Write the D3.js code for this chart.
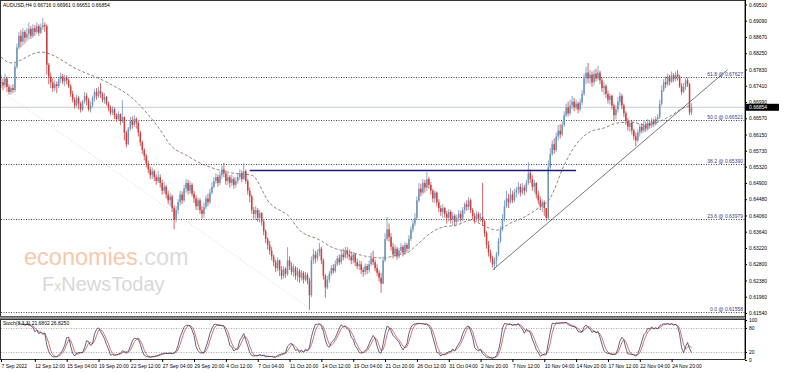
<!DOCTYPE html>
<html>
<head>
<meta charset="utf-8">
<script src="https://cdn.jsdelivr.net/npm/d3@7"></script>
<style>
    body { margin: 0; background: #fff; }
    svg { display: block; font-family: "Liberation Sans", Arial, sans-serif; }
</style>
</head>
<body>
<svg id="chart"></svg>
<script>
// AUDUSD H4, prices in 1/10000 (6685 = 0.6685), open = previous close
var closes = [
    6750,6742,6760,6738,6725,6735,6730,6790,6840,6870,
    6855,6880,6865,6875,6888,6870,6890,6880,6895,6878,
    6892,6898,6895,6795,6765,6750,6735,6745,6740,6758,
    6765,6752,6762,6755,6740,6720,6705,6690,6710,6695,
    6680,6700,6715,6705,6680,6690,6710,6725,6715,6728,
    6720,6705,6712,6695,6685,6672,6680,6665,6655,6668,
    6650,6660,6620,6590,6630,6650,6640,6655,6645,6620,
    6595,6575,6560,6540,6525,6510,6520,6505,6495,6505,
    6490,6470,6480,6460,6445,6455,6425,6395,6420,6440,
    6460,6445,6475,6490,6470,6485,6462,6450,6430,6445,
    6420,6410,6428,6450,6440,6465,6480,6495,6505,6490,
    6510,6525,6515,6495,6505,6490,6500,6485,6495,6505,
    6515,6500,6520,6495,6470,6455,6420,6410,6420,6400,
    6412,6390,6365,6345,6330,6315,6300,6285,6270,6290,
    6265,6250,6268,6255,6290,6275,6260,6270,6250,6262,
    6245,6258,6240,6252,6238,6200,6290,6305,6295,6310,
    6320,6290,6250,6220,6240,6255,6270,6262,6280,6295,
    6285,6305,6298,6315,6305,6300,6290,6305,6285,6275,
    6280,6265,6260,6275,6265,6280,6295,6285,6270,6258,
    6245,6230,6290,6345,6370,6350,6325,6305,6320,6300,
    6315,6325,6310,6330,6320,6345,6370,6385,6400,6445,
    6475,6465,6490,6478,6500,6485,6470,6450,6465,6440,
    6425,6415,6425,6410,6400,6415,6395,6405,6390,6400,
    6410,6398,6420,6435,6428,6445,6420,6405,6395,6410,
    6398,6402,6390,6360,6330,6310,6295,6280,6290,6305,
    6340,6370,6395,6430,6450,6440,6460,6445,6465,6472,
    6480,6465,6478,6470,6490,6515,6500,6480,6490,6460,
    6445,6430,6440,6425,6400,6530,6565,6590,6575,6610,
    6625,6615,6640,6665,6685,6670,6690,6700,6685,6695,
    6680,6698,6720,6760,6775,6760,6770,6750,6772,6760,
    6775,6755,6735,6740,6720,6705,6715,6690,6665,6680,
    6700,6715,6690,6670,6650,6635,6645,6625,6610,6600,
    6620,6635,6625,6640,6630,6645,6638,6650,6642,6655,
    6660,6695,6730,6750,6745,6765,6752,6768,6758,6770,
    6765,6740,6725,6738,6755,6745,6672,6685
];
var highs = [
    6770,6760,6772,6765,6745,6742,6745,6800,6850,6880,
    6885,6890,6885,6890,6905,6895,6900,6898,6905,6900,
    6902,6916,6905,6900,6800,6775,6760,6755,6752,6765,
    6775,6772,6770,6768,6760,6745,6728,6712,6718,6715,
    6700,6705,6725,6722,6710,6700,6715,6732,6735,6738,
    6748,6725,6722,6715,6700,6690,6688,6685,6670,6675,
    6670,6704,6662,6625,6635,6660,6662,6665,6660,6650,
    6625,6600,6580,6565,6548,6532,6530,6525,6512,6520,
    6512,6498,6492,6485,6470,6465,6460,6432,6430,6448,
    6470,6468,6485,6500,6498,6495,6490,6470,6458,6452,
    6450,6430,6440,6458,6462,6475,6492,6505,6515,6512,
    6520,6535,6542,6522,6515,6510,6512,6505,6505,6515,
    6525,6522,6541,6525,6500,6478,6460,6428,6430,6425,
    6420,6415,6395,6370,6350,6340,6325,6305,6292,6298,
    6292,6275,6275,6272,6324,6300,6285,6280,6275,6272,
    6268,6265,6262,6260,6258,6245,6300,6320,6315,6318,
    6335,6325,6295,6255,6250,6262,6278,6280,6290,6302,
    6305,6315,6320,6325,6324,6318,6312,6312,6308,6295,
    6290,6288,6272,6282,6280,6290,6310,6315,6292,6280,
    6265,6258,6300,6360,6402,6385,6360,6335,6330,6325,
    6322,6335,6330,6338,6335,6355,6378,6395,6412,6455,
    6490,6488,6500,6498,6518,6505,6492,6475,6470,6468,
    6448,6432,6435,6428,6418,6422,6420,6415,6410,6408,
    6420,6418,6428,6440,6445,6454,6450,6425,6412,6418,
    6415,6412,6490,6395,6365,6340,6318,6302,6298,6312,
    6348,6378,6410,6445,6470,6462,6477,6470,6475,6480,
    6492,6488,6490,6485,6498,6544,6525,6510,6498,6492,
    6470,6455,6448,6445,6425,6548,6580,6600,6605,6620,
    6640,6642,6650,6675,6695,6700,6705,6715,6710,6705,
    6700,6708,6730,6772,6790,6800,6782,6778,6782,6785,
    6792,6780,6762,6750,6745,6728,6722,6718,6695,6690,
    6712,6725,6720,6695,6675,6658,6652,6650,6630,6620,
    6628,6642,6645,6650,6648,6655,6652,6658,6656,6662,
    6668,6705,6742,6758,6765,6772,6770,6778,6774,6778,
    6782,6770,6748,6748,6760,6762,6748,6696
];
var lows = [
    6735,6730,6735,6725,6718,6718,6722,6725,6785,6835,
    6840,6845,6850,6855,6860,6862,6865,6870,6875,6870,
    6875,6885,6880,6770,6745,6735,6725,6728,6722,6735,
    6748,6745,6740,6745,6735,6712,6698,6682,6685,6680,
    6672,6675,6695,6690,6675,6672,6685,6700,6705,6710,
    6710,6698,6695,6690,6675,6665,6665,6655,6648,6650,
    6640,6645,6600,6582,6588,6625,6630,6635,6630,6610,
    6585,6565,6548,6530,6515,6500,6500,6495,6485,6490,
    6478,6460,6462,6450,6435,6430,6415,6370,6388,6410,
    6432,6435,6440,6465,6460,6462,6455,6438,6420,6420,
    6410,6398,6400,6422,6430,6435,6460,6475,6488,6480,
    6485,6500,6505,6485,6485,6478,6482,6475,6478,6488,
    6498,6492,6498,6488,6460,6440,6410,6398,6395,6390,
    6388,6380,6355,6335,6318,6305,6290,6275,6260,6262,
    6250,6240,6242,6245,6250,6265,6252,6248,6240,6235,
    6232,6238,6230,6235,6228,6162,6195,6280,6282,6288,
    6300,6280,6240,6193,6215,6232,6250,6255,6258,6275,
    6278,6280,6290,6295,6295,6290,6280,6282,6275,6268,
    6265,6255,6248,6252,6255,6258,6275,6278,6262,6250,
    6235,6206,6228,6285,6340,6338,6315,6295,6298,6292,
    6295,6305,6300,6305,6310,6315,6340,6362,6378,6395,
    6440,6455,6460,6465,6470,6475,6460,6440,6438,6430,
    6415,6405,6400,6400,6385,6390,6385,6380,6378,6382,
    6390,6388,6392,6410,6418,6420,6412,6395,6385,6390,
    6388,6390,6380,6350,6320,6300,6285,6272,6265,6275,
    6300,6335,6365,6390,6425,6425,6435,6438,6440,6452,
    6460,6455,6460,6458,6465,6485,6490,6470,6465,6450,
    6435,6420,6415,6405,6392,6395,6525,6560,6565,6570,
    6600,6605,6610,6635,6660,6662,6665,6680,6675,6678,
    6670,6675,6690,6715,6745,6748,6745,6738,6742,6752,
    6755,6745,6725,6718,6710,6695,6692,6680,6650,6655,
    6672,6690,6680,6660,6640,6625,6622,6615,6600,6585,
    6595,6610,6618,6620,6622,6625,6630,6632,6635,6638,
    6645,6655,6690,6725,6735,6740,6742,6748,6750,6752,
    6755,6735,6718,6722,6730,6738,6665,6665
];

// moving average (bar index, price)
var maIdx  = [0, 5, 20, 39, 54, 66, 79, 86, 93, 99, 106, 116, 126, 135, 145, 150, 160, 167, 175, 185, 192, 199, 204, 209, 216, 222, 229, 236, 242, 249, 256, 263, 270, 276, 283, 290, 296, 303, 310, 317, 323, 330, 337, 343, 347];
var maVals = [6815, 6800, 6828, 6782, 6748, 6709, 6634, 6583, 6562, 6544, 6529, 6516, 6510, 6438, 6402, 6368, 6343, 6322, 6312, 6299, 6296, 6304, 6309, 6330, 6361, 6376, 6381, 6394, 6381, 6368, 6386, 6402, 6425, 6451, 6536, 6596, 6622, 6632, 6645, 6647, 6640, 6647, 6665, 6684, 6691];

var priceTicks = [0.69510, 0.69090, 0.68670, 0.68250, 0.67830, 0.67410, 0.66990, 0.66570, 0.66150, 0.65730,
    0.65320, 0.64900, 0.64480, 0.64060, 0.63640, 0.63220, 0.62800, 0.62380, 0.61960, 0.61540];
var lastPrice = 0.66854;
var headerText = "AUDUSD,H4  0.66716 0.66961 0.66651 0.66854";
var stochText = "Stoch(8,3,3) 21.6802 26.8250";

var dateIdx = [0, 17, 33, 49, 65, 81, 97, 113, 129, 145, 161, 177, 193, 209, 225, 241, 257, 273, 289, 305, 321, 337];
var dateLabels = ["7 Sep 2022", "12 Sep 12:00", "15 Sep 04:00", "19 Sep 20:00", "22 Sep 12:00", "27 Sep 04:00",
    "29 Sep 20:00", "4 Oct 12:00", "7 Oct 04:00", "11 Oct 20:00", "14 Oct 12:00", "19 Oct 04:00", "21 Oct 20:00",
    "26 Oct 12:00", "31 Oct 04:00", "2 Nov 20:00", "7 Nov 12:00", "10 Nov 04:00", "14 Nov 20:00", "17 Nov 12:00",
    "22 Nov 04:00", "24 Nov 20:00"];

var fibPct  = ["61.8", "50.0", "38.2", "23.6", "0.0"];
var fibVals = [0.67627, 0.66521, 0.65390, 0.63979, 0.61558];

var resistIdx = [125, 289], resistVal = 0.6522;
var trendIdx = [247, 365], trendVals = [6265, 6782];
var diagIdx = [3, 155], diagVals = [6717, 6167];

var stochTicks = [100, 80, 20, 0];

var svgWidth = 798, svgHeight = 372;
var axisX = 745;
var main = {top: 1, bottom: 316};
var sub = {top: 319, bottom: 359};

var svg = d3.select('#chart')
    .attr("width", svgWidth)
    .attr("height", svgHeight);

var x = d3.scaleLinear().domain([0, 347]).range([1, 1 + 347 * 1.99]);
var y = d3.scaleLinear().domain([0.61462, 0.69600]).range([main.bottom, main.top]);
var ys = d3.scaleLinear().domain([0, 100]).range([360, 320]);

// build bars
var bars = closes.map(function (c, i) {
    var o = i === 0 ? c : closes[i - 1];
    return {
        i: i,
        o: o / 10000,
        c: c / 10000,
        h: Math.max(highs[i], o, c) / 10000,
        l: Math.min(lows[i], o, c) / 10000
    };
});

// stochastic 8,3,3 from the bars
var kLen = 8, slowing = 3, dLen = 3;
var kVals = bars.map(function (b, i) {
    if (i < kLen - 1 + slowing - 1) return null;
    var num = 0, den = 0;
    for (var j = i - slowing + 1; j <= i; j++) {
        var win = bars.slice(j - kLen + 1, j + 1);
        var hh = d3.max(win, function (d) { return d.h; });
        var ll = d3.min(win, function (d) { return d.l; });
        num += bars[j].c - ll;
        den += hh - ll;
    }
    return den ? 100 * num / den : 50;
});
var dVals = kVals.map(function (k, i) {
    var w = kVals.slice(Math.max(0, i - dLen + 1), i + 1);
    if (w.length < dLen || w.some(function (v) { return v === null; })) return null;
    return d3.mean(w);
});

// clip paths for panels
var defs = svg.append("defs");
defs.append("clipPath").attr("id", "clipMain")
    .append("rect").attr("x", 1).attr("y", main.top).attr("width", axisX - 1).attr("height", main.bottom - main.top);
defs.append("clipPath").attr("id", "clipSub")
    .append("rect").attr("x", 1).attr("y", sub.top).attr("width", axisX - 1).attr("height", sub.bottom - sub.top);

// watermark
var wm = svg.append("g").attr("clip-path", "url(#clipMain)");
var t1 = wm.append("text").attr("x", 24).attr("y", 265).attr("font-size", 23.5);
t1.append("tspan").attr("fill", "#f6c9aa").text("economies");
t1.append("tspan").attr("fill", "#dcdcdc").text(".com");
var t2 = wm.append("text").attr("x", 42).attr("y", 291).attr("font-size", 20).attr("fill", "#d8d8d8");
t2.append("tspan").text("F");
t2.append("tspan").attr("font-size", 14).text("x");
t2.append("tspan").text("NewsToday");

var g = svg.append("g").attr("clip-path", "url(#clipMain)");

// current price line
g.append("line")
    .attr("x1", 1).attr("x2", axisX)
    .attr("y1", y(lastPrice)).attr("y2", y(lastPrice))
    .attr("stroke", "#c3ccd6").attr("stroke-width", 1);

// fibonacci levels
g.selectAll(".fib")
    .data(fibVals)
    .enter()
    .append("line")
    .attr("x1", 1).attr("x2", axisX)
    .attr("y1", function (d) { return Math.round(y(d)) + 0.5; })
    .attr("y2", function (d) { return Math.round(y(d)) + 0.5; })
    .attr("stroke", "#444")
    .attr("stroke-dasharray", "1,1.5");

g.selectAll(".fibLabel")
    .data(fibVals)
    .enter()
    .append("text")
    .attr("x", axisX - 2)
    .attr("y", function (d) { return Math.round(y(d)) - 1; })
    .attr("text-anchor", "end")
    .attr("font-size", 5)
    .attr("fill", "#3a3a8a")
    .text(function (d, i) { return fibPct[i] + " @ " + d3.format(".5f")(d); });

// faint diagonal of the fibonacci tool
g.append("line")
    .attr("x1", x(diagIdx[0])).attr("y1", y(diagVals[0] / 10000))
    .attr("x2", x(diagIdx[1])).attr("y2", y(diagVals[1] / 10000))
    .attr("stroke", "#d8d8d8")
    .attr("stroke-dasharray", "1,2");

// moving average
var maLine = d3.line()
    .x(function (d, i) { return x(maIdx[i]); })
    .y(function (d) { return y(d / 10000); })
    .curve(d3.curveMonotoneX);
g.append("path")
    .datum(maVals)
    .attr("fill", "none")
    .attr("stroke", "#7d6258")
    .attr("stroke-width", 0.8)
    .attr("stroke-dasharray", "3,2")
    .attr("d", maLine);

// candles
var candle = g.selectAll(".bar")
    .data(bars)
    .enter()
    .append("g");

candle.append("line")
    .attr("x1", function (d) { return x(d.i); })
    .attr("x2", function (d) { return x(d.i); })
    .attr("y1", function (d) { return y(d.h); })
    .attr("y2", function (d) { return y(d.l); })
    .attr("stroke", function (d) { return d.c >= d.o ? "#6f93b8" : "#c9403f"; })
    .attr("stroke-width", 0.8);

candle.append("rect")
    .attr("x", function (d) { return x(d.i) - 0.75; })
    .attr("width", 1.5)
    .attr("y", function (d) { return y(Math.max(d.o, d.c)); })
    .attr("height", function (d) { return Math.max(0.6, Math.abs(y(d.o) - y(d.c))); })
    .attr("fill", function (d) { return d.c >= d.o ? "#6f93b8" : "#c9403f"; });

// resistance line
g.append("line")
    .attr("x1", x(resistIdx[0])).attr("x2", x(resistIdx[1]))
    .attr("y1", y(resistVal)).attr("y2", y(resistVal))
    .attr("stroke", "#1c1c7a").attr("stroke-width", 1.6);

// rising trend line
g.append("line")
    .attr("x1", x(trendIdx[0])).attr("y1", y(trendVals[0] / 10000))
    .attr("x2", x(trendIdx[1])).attr("y2", y(trendVals[1] / 10000))
    .attr("stroke", "#555").attr("stroke-width", 0.8);

// header
svg.append("text")
    .attr("x", 3).attr("y", 7)
    .attr("font-size", 5)
    .attr("fill", "#000")
    .text(headerText);

// stochastic panel
var s = svg.append("g").attr("clip-path", "url(#clipSub)");
s.selectAll(".lvl")
    .data([80, 20])
    .enter()
    .append("line")
    .attr("x1", 1).attr("x2", axisX)
    .attr("y1", function (d) { return Math.round(ys(d)) + 0.5; })
    .attr("y2", function (d) { return Math.round(ys(d)) + 0.5; })
    .attr("stroke", "#aaa")
    .attr("stroke-dasharray", "1,1.5");

var kLine = d3.line()
    .defined(function (d) { return d !== null; })
    .x(function (d, i) { return x(i); })
    .y(function (d) { return ys(d); });

s.append("path").datum(dVals)
    .attr("fill", "none").attr("stroke", "#c8504a").attr("stroke-width", 0.8)
    .attr("d", kLine);
s.append("path").datum(kVals)
    .attr("fill", "none").attr("stroke", "#3c3c64").attr("stroke-width", 0.8)
    .attr("d", kLine);

svg.append("text")
    .attr("x", 3).attr("y", 325)
    .attr("font-size", 5)
    .attr("fill", "#000")
    .text(stochText);

// frames
svg.append("rect")
    .attr("x", 0.5).attr("y", 0.5)
    .attr("width", axisX - 0.5).attr("height", main.bottom)
    .attr("fill", "none").attr("stroke", "#333");
svg.append("rect")
    .attr("x", 0).attr("y", main.bottom + 0.5)
    .attr("width", axisX).attr("height", 2.5)
    .attr("fill", "#8a8a8a");
svg.append("rect")
    .attr("x", 0.5).attr("y", sub.top + 0.5)
    .attr("width", axisX - 0.5).attr("height", sub.bottom - sub.top)
    .attr("fill", "none").attr("stroke", "#333");

// price axis
var yAxis = d3.axisRight(y)
    .tickValues(priceTicks)
    .tickFormat(d3.format(".5f"))
    .tickSize(2);
var ya = svg.append("g")
    .attr("transform", "translate(" + axisX + ",0)")
    .call(yAxis);
ya.select(".domain").attr("d", "M0.5,0V" + sub.bottom).attr("stroke", "#000");
ya.selectAll("text").attr("font-size", 5).attr("x", 4).attr("fill", "#000");

// last price box
svg.append("rect")
    .attr("x", axisX + 1).attr("y", y(lastPrice) - 3.5)
    .attr("width", 33).attr("height", 7)
    .attr("fill", "#000");
svg.append("text")
    .attr("x", axisX + 4).attr("y", y(lastPrice) + 1.8)
    .attr("font-size", 5).attr("fill", "#fff")
    .text(d3.format(".5f")(lastPrice));

// stochastic axis
var sAxis = d3.axisRight(ys).tickValues(stochTicks).tickSize(2);
var sa = svg.append("g")
    .attr("transform", "translate(" + axisX + ",0)")
    .call(sAxis);
sa.select(".domain").remove();
sa.selectAll("text").attr("font-size", 5).attr("x", 4).attr("fill", "#000");

// time axis
var xAxis = d3.axisBottom(x)
    .tickValues(dateIdx)
    .tickFormat(function (d, i) { return dateLabels[i]; })
    .tickSize(3);
var xa = svg.append("g")
    .attr("transform", "translate(0," + sub.bottom + ")")
    .call(xAxis);
xa.select(".domain").remove();
xa.selectAll("text")
    .attr("font-size", 5)
    .attr("text-anchor", "start")
    .attr("y", 5)
    .attr("dy", "0.71em")
    .attr("fill", "#000");
</script>
</body>
</html>
